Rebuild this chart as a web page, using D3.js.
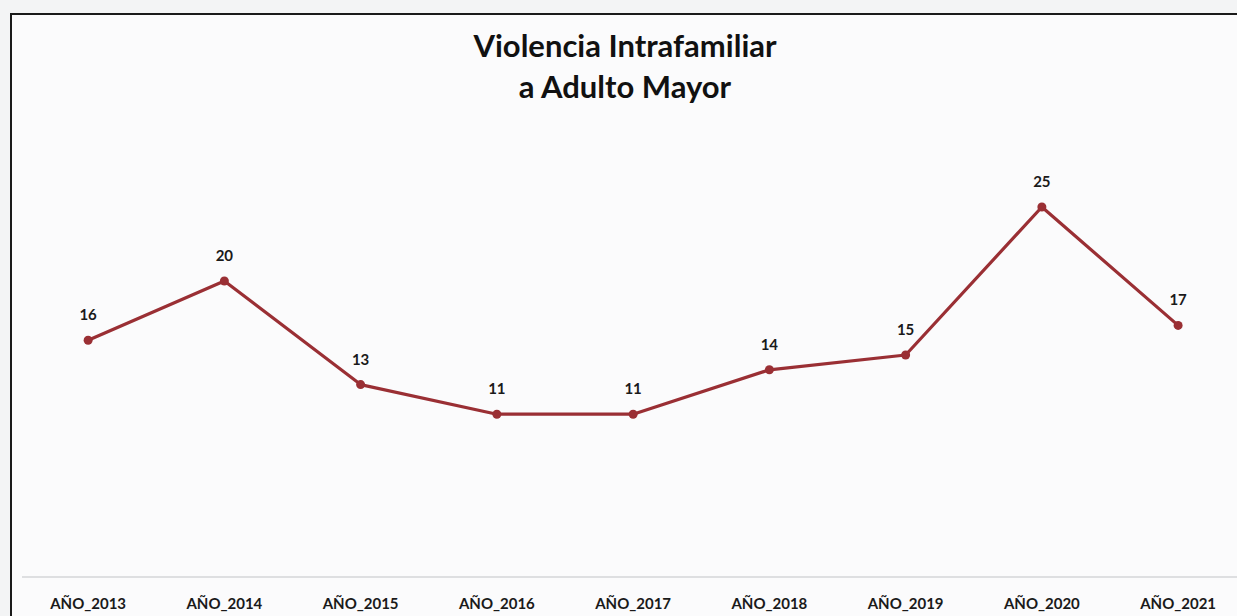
<!DOCTYPE html>
<html><head><meta charset="utf-8">
<script src="https://cdn.jsdelivr.net/npm/d3@7"></script>
<style>body{margin:0;background:#f3f4f5;}svg{display:block;}</style>
</head><body><svg id="c" width="1237" height="616"></svg>
<script>
const categories = ["AÑO_2013","AÑO_2014","AÑO_2015","AÑO_2016","AÑO_2017","AÑO_2018","AÑO_2019","AÑO_2020","AÑO_2021"];
const values = [16,20,13,11,11,14,15,25,17];
const titleLines = ["Violencia Intrafamiliar","a Adulto Mayor"];

const svg = d3.select("#c");
const W = 1237, H = 616;
svg.append("rect").attr("x",0).attr("y",0).attr("width",W).attr("height",H).attr("fill","#f3f4f5");
svg.append("rect").attr("x",11).attr("y",14).attr("width",W+20).attr("height",H+20)
  .attr("fill","#fbfbfc").attr("stroke","#1a1a1a").attr("stroke-width",2);

const x = d3.scaleBand().domain(categories).range([20, 1246.25]);
const y = d3.scaleLinear().domain([0,25]).range([577, 207]);

svg.append("line").attr("x1",22).attr("x2",W).attr("y1",y(0)).attr("y2",y(0))
  .attr("stroke","#d4d6d8").attr("stroke-width",1.5);

const font = "Lato, 'Open Sans', sans-serif";
svg.append("g").selectAll("text").data(categories).join("text")
  .attr("x",d=>x(d)+x.bandwidth()/2).attr("y",609)
  .attr("text-anchor","middle").attr("font-family",font).attr("font-weight","bold")
  .attr("font-size",15).attr("fill","#1a1a1a").text(d=>d);

const line = d3.line().x((d,i)=>x(categories[i])+x.bandwidth()/2).y(d=>y(d));
svg.append("path").datum(values).attr("d",line).attr("fill","none")
  .attr("stroke","#9a2f34").attr("stroke-width",3.2).attr("stroke-linejoin","round");
svg.append("g").selectAll("circle").data(values).join("circle")
  .attr("cx",(d,i)=>x(categories[i])+x.bandwidth()/2).attr("cy",d=>y(d)).attr("r",4.5)
  .attr("fill","#9a2f34");
svg.append("g").selectAll("text").data(values).join("text")
  .attr("x",(d,i)=>x(categories[i])+x.bandwidth()/2).attr("y",d=>y(d)-20)
  .attr("text-anchor","middle").attr("font-family",font).attr("font-weight","bold")
  .attr("font-size",15).attr("fill","#1a1a1a").text(d=>d);

svg.append("g").selectAll("text").data(titleLines).join("text")
  .attr("x",625).attr("y",(d,i)=>57+i*41)
  .attr("text-anchor","middle").attr("font-family",font).attr("font-weight","bold")
  .attr("font-size",31).attr("fill","#111").text(d=>d);
</script></body></html>
